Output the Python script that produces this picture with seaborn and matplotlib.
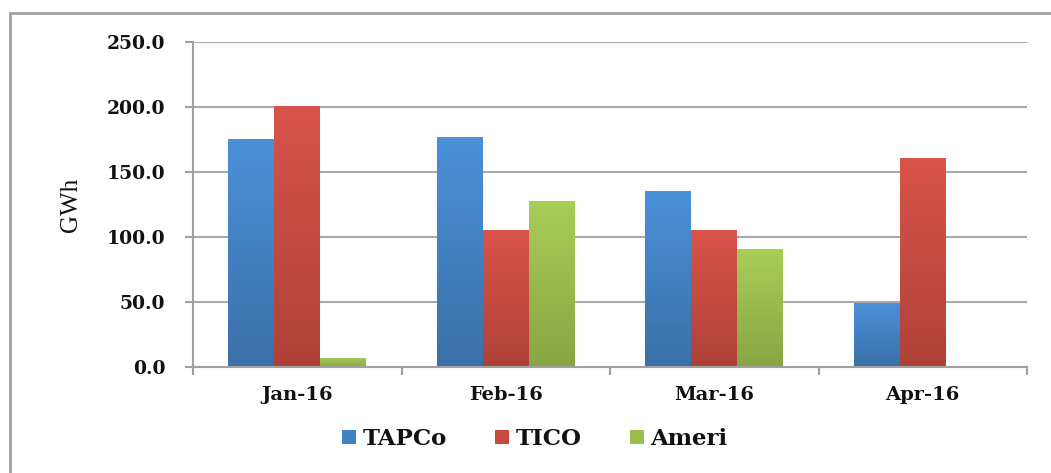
import numpy as np
import pandas as pd
import matplotlib
matplotlib.use("Agg")
import matplotlib.pyplot as plt
import seaborn as sns
from matplotlib.patches import Patch, Rectangle
from matplotlib.colors import LinearSegmentedColormap

months = ["Jan-16", "Feb-16", "Mar-16", "Apr-16"]
series = ["TAPCo", "TICO", "Ameri"]
tapco = [175.0, 177.0, 135.5, 49.0]
tico = [200.5, 105.0, 105.0, 161.0]
ameri = [7.0, 127.5, 91.0, 0.0]
yticks = [0, 50, 100, 150, 200, 250]

top_colors = {"TAPCo": "#4A91D8", "TICO": "#D9544A", "Ameri": "#A9CE57"}
bot_colors = {"TAPCo": "#3A70A9", "TICO": "#AE4238", "Ameri": "#88A544"}
mid_colors = {"TAPCo": "#4281C4", "TICO": "#C84B40", "Ameri": "#9ABD4E"}
text_color = "#111111"

df = pd.DataFrame({
    "month": months * 3,
    "series": ["TAPCo"] * 4 + ["TICO"] * 4 + ["Ameri"] * 4,
    "GWh": tapco + tico + ameri,
})

sns.set_style("white")
plt.rcParams["font.family"] = ["DejaVu Serif"]
plt.rcParams["text.color"] = text_color
plt.rcParams["axes.labelcolor"] = text_color
plt.rcParams["xtick.labelcolor"] = text_color
plt.rcParams["ytick.labelcolor"] = text_color

fig = plt.figure(figsize=(10.51, 4.73), dpi=100)
ax = fig.add_axes([193 / 1051, 1 - 367 / 473, (1027 - 193) / 1051, (367 - 42) / 473])

sns.barplot(data=df, x="month", y="GWh", hue="series", hue_order=series,
            order=months, palette=mid_colors, width=0.66, gap=0,
            edgecolor="none", linewidth=0, saturation=1, legend=False, ax=ax)

# vertical gradient fill on bars
bars = [p for p in ax.patches if isinstance(p, Rectangle)]
order_series = []
for s in series:
    order_series += [s] * len(months)
for p, s in zip(bars, order_series):
    h = p.get_height()
    if h <= 0:
        continue
    x0 = p.get_x()
    w = p.get_width()
    cmap = LinearSegmentedColormap.from_list(s, [bot_colors[s], top_colors[s]])
    grad = np.linspace(0, 1, 256).reshape(-1, 1)
    im = ax.imshow(grad, extent=(x0, x0 + w, 0, h), origin="lower", aspect="auto",
                   cmap=cmap, zorder=p.get_zorder() + 0.1)
    im.set_clip_path(p)

ax.set_xlim(-0.5, 3.5)
ax.set_ylim(0, 250)
ax.set_yticks(yticks)
ax.set_yticklabels([f"{v:.1f}" for v in yticks], fontsize=13.5, fontweight="bold")
ax.set_xticks(range(len(months)))
ax.set_xticklabels(months, fontsize=14, fontweight="bold")
ax.set_xticks([-0.5, 0.5, 1.5, 2.5, 3.5], minor=True)
ax.tick_params(axis="x", which="major", length=0, pad=14)
ax.tick_params(axis="x", which="minor", length=6, width=1.5, color="#A0A0A0", direction="out", bottom=True)
ax.tick_params(axis="y", length=6, width=1.5, color="#A0A0A0", direction="out", left=True, pad=14)

ax.grid(axis="y", color="#A8A8A8", linewidth=1.5)
ax.set_axisbelow(True)
for side in ["top", "right"]:
    ax.spines[side].set_visible(False)
for side in ["left", "bottom"]:
    ax.spines[side].set_color("#A0A0A0")
    ax.spines[side].set_linewidth(1.5)

ax.set_xlabel("")
ylab = ax.set_ylabel("GWh", fontsize=18)
ylab.set_fontfamily("Liberation Serif")
ylab.set_fontweight("normal")
ax.yaxis.set_label_coords(-(193 - 82) / (1027 - 193), 0.5)

handles = [Patch(facecolor=mid_colors[s], edgecolor="none") for s in series]
leg = fig.legend(handles, series, loc="center", bbox_to_anchor=(535 / 1051, 1 - 439 / 473),
                 ncol=3, frameon=False, handlelength=0.6, handleheight=0.6,
                 columnspacing=2.1, handletextpad=0.3,
                 prop={"family": "DejaVu Serif", "weight": "bold", "size": 16.5})

# outer chart border
fig.patches.append(Rectangle((10 / 1051, -0.05), 1.2, 1 - 13 / 473 + 0.05,
                             transform=fig.transFigure, fill=False,
                             edgecolor="#A0A0A0", linewidth=2))

fig.savefig("out.png", dpi=100)
